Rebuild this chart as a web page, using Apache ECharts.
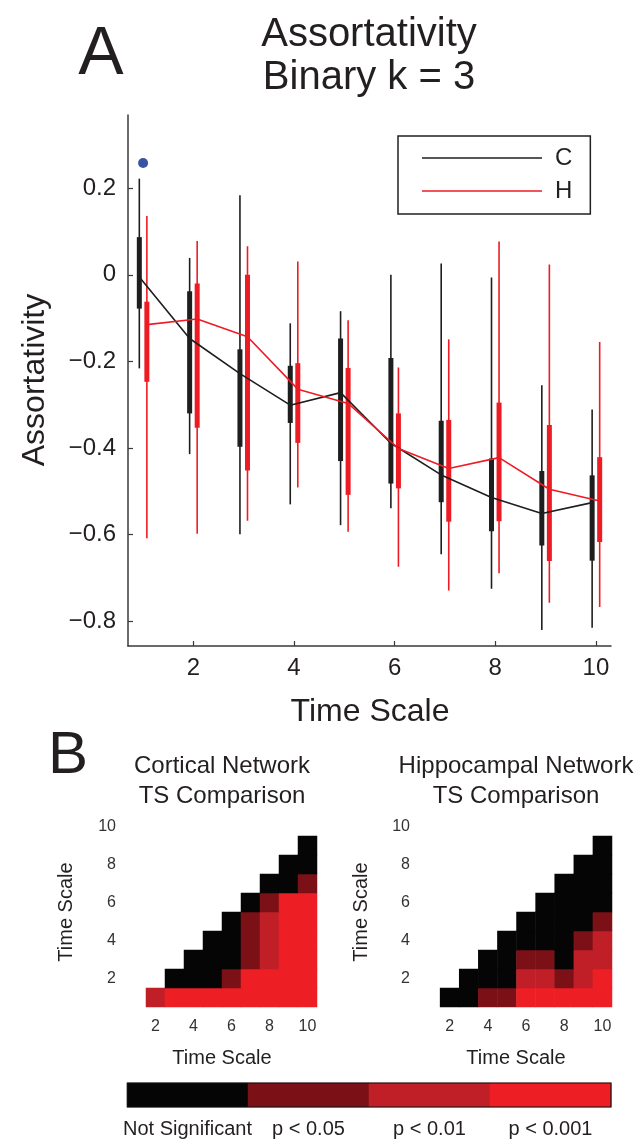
<!DOCTYPE html>
<html>
<head>
<meta charset="utf-8">
<script src="https://cdn.jsdelivr.net/npm/echarts@6/dist/echarts.min.js"></script>
<style>
  html, body { margin: 0; padding: 0; background: #fff; }
  #chart { width: 641px; height: 1140px; }
</style>
</head>
<body>
<div id="chart"></div>
<script>
// ---- data ----
const timeScales = [1, 2, 3, 4, 5, 6, 7, 8, 9, 10];
// box stats per time scale: [min, q1, median, q3, max]
const corticalStats = [
  [-0.216, -0.078, -0.005, 0.087, 0.222],
  [-0.414, -0.320, -0.147, -0.038, 0.039],
  [-0.599, -0.397, -0.228, -0.172, 0.184],
  [-0.530, -0.342, -0.301, -0.210, -0.112],
  [-0.578, -0.430, -0.272, -0.147, -0.084],
  [-0.539, -0.482, -0.389, -0.192, 0.000],
  [-0.645, -0.525, -0.462, -0.337, 0.026],
  [-0.725, -0.592, -0.514, -0.424, -0.006],
  [-0.820, -0.625, -0.551, -0.453, -0.255],
  [-0.815, -0.660, -0.526, -0.463, -0.311]
];
const hippocampalStats = [
  [-0.608, -0.247, -0.115, -0.062, 0.136],
  [-0.598, -0.353, -0.102, -0.020, 0.078],
  [-0.568, -0.452, -0.143, 0.000, 0.066],
  [-0.491, -0.388, -0.264, -0.204, 0.031],
  [-0.593, -0.508, -0.297, -0.215, -0.105],
  [-0.674, -0.493, -0.401, -0.320, -0.214],
  [-0.729, -0.570, -0.447, -0.335, -0.149],
  [-0.689, -0.569, -0.422, -0.295, 0.077],
  [-0.757, -0.661, -0.495, -0.347, 0.024],
  [-0.767, -0.617, -0.522, -0.421, -0.155]
];
const corticalOutliers = [[1, 0.258]];
const yTicks = [-0.8, -0.6, -0.4, -0.2, 0, 0.2];
const xTicks = [2, 4, 6, 8, 10];

// significance level of time scale i vs j (j > i); row i lists j = i+1..10
// 0 = not significant, 1 = p<0.05, 2 = p<0.01, 3 = p<0.001
const corticalSig = [
  [2, 3, 3, 3, 3, 3, 3, 3, 3],
  [0, 0, 0, 1, 3, 3, 3, 3],
  [0, 0, 0, 1, 2, 3, 3],
  [0, 0, 1, 2, 3, 3],
  [0, 1, 2, 3, 3],
  [0, 1, 3, 3],
  [0, 0, 1],
  [0, 0],
  [0]
];
const hippocampalSig = [
  [0, 0, 1, 1, 3, 3, 3, 3, 3],
  [0, 0, 0, 2, 2, 1, 2, 3],
  [0, 0, 1, 1, 0, 2, 2],
  [0, 0, 0, 0, 1, 2],
  [0, 0, 0, 0, 1],
  [0, 0, 0, 0],
  [0, 0, 0],
  [0, 0],
  [0]
];
const levelNames = ['Not Significant', 'p < 0.05', 'p < 0.01', 'p < 0.001'];
const levelColors = ['#050505', '#7b1116', '#c01f27', '#ed1f24'];

// ---- helpers ----
const FONT = 'Liberation Sans, Arial, Helvetica, sans-serif';
const INK = '#231f20';
const BLACK = '#1e1e1e';
const RED = '#ed1c24';
const OFFSET = 0.075;

function boxData(stats, dx) {
  return stats.map((s, i) => [timeScales[i] + dx].concat(s));
}
function medianLine(stats, dx) {
  return stats.map((s, i) => [timeScales[i] + dx, s[2]]);
}
function sigCells(rows) {
  const out = [];
  rows.forEach((row, r) => {
    row.forEach((v, k) => {
      const i = r + 1, j = i + 1 + k;
      out.push([j - 1, i - 1, v]);
    });
  });
  return out;
}
function boxRenderer(color) {
  return function (params, api) {
    const x = api.value(0);
    const lo = api.coord([x, api.value(1)]);
    const q1 = api.coord([x, api.value(2)]);
    const q3 = api.coord([x, api.value(4)]);
    const hi = api.coord([x, api.value(5)]);
    const bw = 5;
    return {
      type: 'group',
      children: [
        { type: 'line', shape: { x1: lo[0], y1: lo[1], x2: hi[0], y2: hi[1] },
          style: { stroke: color, lineWidth: 1.6 } },
        { type: 'rect', shape: { x: q3[0] - bw / 2, y: q3[1], width: bw, height: q1[1] - q3[1] },
          style: { fill: color } }
      ]
    };
  };
}
function fmtTick(v) {
  if (Math.abs(v) < 1e-9) return '0';
  return v.toFixed(1).replace('-', '\u2212');
}
function txt(text, x, y, size, extra) {
  return Object.assign({
    type: 'text', x: x, y: y, z: 100,
    style: { text: text, fontFamily: FONT, fontSize: size, fill: INK, align: 'center', verticalAlign: 'middle' }
  }, extra || {});
}

const tsNames = timeScales.map(String);
const evenOnly = (idx, val) => (+val) % 2 === 0;

function heatAxes(gridIndex) {
  return {
    x: {
      type: 'category', gridIndex: gridIndex, data: tsNames,
      axisLine: { show: false }, axisTick: { show: false }, splitLine: { show: false },
      axisLabel: { interval: evenOnly, fontFamily: FONT, fontSize: 16, color: '#333', margin: 12 }
    },
    y: {
      type: 'category', gridIndex: gridIndex, data: tsNames,
      axisLine: { show: false }, axisTick: { show: false }, splitLine: { show: false },
      axisLabel: { interval: evenOnly, fontFamily: FONT, fontSize: 16, color: '#333', margin: 11 }
    }
  };
}
const hA = heatAxes(1), hB = heatAxes(2);

const chart = echarts.init(document.getElementById('chart'), null, { renderer: 'canvas' });
chart.setOption({
  backgroundColor: '#fff',
  animation: false,
  grid: [
    { left: 128, top: 115, width: 483, height: 531 },
    { left: 127, top: 817, width: 190, height: 190 },
    { left: 421, top: 817, width: 191, height: 190 },
    { left: 127, top: 1083, width: 484, height: 24 }
  ],
  xAxis: [
    {
      type: 'value', gridIndex: 0, min: 0.7, max: 10.3,
      axisLine: { onZero: false, lineStyle: { color: '#3a3a3a', width: 1.5 } },
      axisTick: { inside: true, length: 5, customValues: xTicks, lineStyle: { color: '#3a3a3a', width: 1.2 } },
      axisLabel: { customValues: xTicks, fontFamily: FONT, fontSize: 24, color: INK, margin: 10 },
      splitLine: { show: false }
    },
    hA.x, hB.x,
    {
      type: 'category', gridIndex: 3, data: levelNames,
      axisLine: { show: false },
      axisTick: { show: true, alignWithLabel: true, inside: true, length: 3, lineStyle: { color: '#333' } },
      axisLabel: { interval: 0, fontFamily: FONT, fontSize: 20, color: INK, margin: 12 }
    }
  ],
  yAxis: [
    {
      type: 'value', gridIndex: 0, min: -0.857, max: 0.369,
      axisLine: { show: true, onZero: false, lineStyle: { color: '#3a3a3a', width: 1.5 } },
      axisTick: { show: true, inside: true, length: 5, customValues: yTicks, lineStyle: { color: '#3a3a3a', width: 1.2 } },
      axisLabel: { customValues: yTicks, formatter: fmtTick, fontFamily: FONT, fontSize: 24, color: INK, margin: 12 },
      splitLine: { show: false }
    },
    hA.y, hB.y,
    {
      type: 'category', gridIndex: 3, data: [''],
      axisLine: { show: false }, axisTick: { show: false }, axisLabel: { show: false }
    }
  ],
  legend: {
    data: ['C', 'H'],
    orient: 'vertical',
    left: 398, top: 136,
    padding: [10, 18, 11, 24],
    icon: 'rect',
    itemWidth: 120, itemHeight: 1.6, itemGap: 9,
    borderColor: INK, borderWidth: 1.5, borderRadius: 0,
    selectedMode: false,
    textStyle: { fontFamily: FONT, fontSize: 24, color: INK, lineHeight: 24, padding: [0, 0, 0, 8] }
  },
  visualMap: {
    type: 'piecewise', show: false, dimension: 2, seriesIndex: [5, 6, 7],
    pieces: levelColors.map((c, i) => ({ value: i, color: c }))
  },
  series: [
    { name: 'C boxes', type: 'custom', xAxisIndex: 0, yAxisIndex: 0, z: 2,
      renderItem: boxRenderer(BLACK), encode: { x: 0, y: [1, 2, 3, 4, 5] },
      data: boxData(corticalStats, -OFFSET) },
    { name: 'H boxes', type: 'custom', xAxisIndex: 0, yAxisIndex: 0, z: 2,
      renderItem: boxRenderer(RED), encode: { x: 0, y: [1, 2, 3, 4, 5] },
      data: boxData(hippocampalStats, OFFSET) },
    { name: 'C', type: 'line', xAxisIndex: 0, yAxisIndex: 0, z: 3, symbol: 'none',
      color: BLACK, itemStyle: { color: BLACK }, lineStyle: { color: BLACK, width: 1.6 },
      data: medianLine(corticalStats, -OFFSET) },
    { name: 'H', type: 'line', xAxisIndex: 0, yAxisIndex: 0, z: 4, symbol: 'none',
      color: RED, itemStyle: { color: RED }, lineStyle: { color: RED, width: 1.6 },
      data: medianLine(hippocampalStats, OFFSET) },
    { name: 'outlier', type: 'scatter', xAxisIndex: 0, yAxisIndex: 0, z: 5,
      symbolSize: 10, itemStyle: { color: '#3953a4', opacity: 1 }, data: corticalOutliers },
    { name: 'Cortical', type: 'heatmap', xAxisIndex: 1, yAxisIndex: 1, data: sigCells(corticalSig) },
    { name: 'Hippocampal', type: 'heatmap', xAxisIndex: 2, yAxisIndex: 2, data: sigCells(hippocampalSig) },
    { name: 'scale', type: 'heatmap', xAxisIndex: 3, yAxisIndex: 3,
      data: levelNames.map((n, i) => [i, 0, i]) }
  ],
  graphic: [
    txt('A', 101, 55, 68),
    txt('Assortativity', 369, 35, 40),
    txt('Binary k = 3', 369, 78, 40),
    txt('Assortativity', 35, 380, 32, { rotation: Math.PI / 2 }),
    txt('Time Scale', 370, 712, 32),
    txt('B', 68, 756, 60),
    txt('Cortical Network', 222, 766, 24),
    txt('TS Comparison', 222, 796, 24),
    txt('Hippocampal Network', 516, 766, 24),
    txt('TS Comparison', 516, 796, 24),
    txt('Time Scale', 66, 912, 20, { rotation: Math.PI / 2 }),
    txt('Time Scale', 361, 912, 20, { rotation: Math.PI / 2 }),
    txt('Time Scale', 222, 1058, 20),
    txt('Time Scale', 516, 1058, 20),
    { type: 'rect', z: 100, shape: { x: 127.5, y: 1083, width: 483.5, height: 24 },
      style: { fill: 'none', stroke: '#111', lineWidth: 1.2 } }
  ]
});
</script>
</body>
</html>
